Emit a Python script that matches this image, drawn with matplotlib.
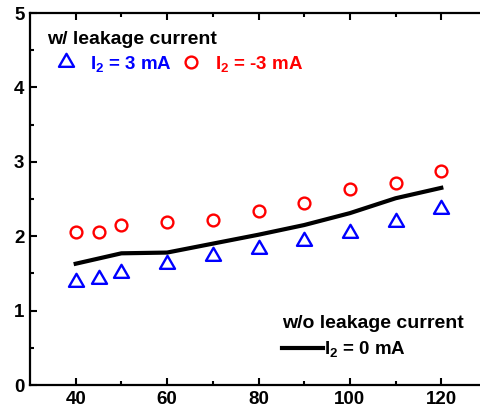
import numpy as np
import matplotlib.pyplot as plt
from matplotlib.path import Path

plt.rcParams['font.family'] = ['Liberation Sans', 'DejaVu Sans']
plt.rcParams['font.weight'] = 'bold'
plt.rcParams['mathtext.fontset'] = 'custom'
plt.rcParams['mathtext.rm'] = 'Liberation Sans:bold'
plt.rcParams['mathtext.it'] = 'Liberation Sans:bold'
plt.rcParams['mathtext.bf'] = 'Liberation Sans:bold'

# datos
x_fuga = [40, 45, 50, 60, 70, 80, 90, 100, 110, 120]
y_pos = [1.38, 1.43, 1.50, 1.63, 1.74, 1.83, 1.93, 2.04, 2.19, 2.36]   # I2 = 3 mA
y_neg = [2.06, 2.05, 2.15, 2.19, 2.22, 2.34, 2.45, 2.63, 2.71, 2.87]   # I2 = -3 mA
x_sin = [40, 50, 60, 70, 80, 90, 100, 110, 120]
y_sin = [1.63, 1.77, 1.78, 1.90, 2.02, 2.15, 2.31, 2.51, 2.65]         # I2 = 0 mA

xticks = [40, 60, 80, 100, 120]
yticks = [0, 1, 2, 3, 4, 5]

# triangulo equilatero
tri = Path([(0, 1), (-0.866, -0.5), (0.866, -0.5), (0, 1)],
           [Path.MOVETO, Path.LINETO, Path.LINETO, Path.CLOSEPOLY])

fig = plt.figure(figsize=(4.8, 4.17), dpi=100)
ax = fig.add_axes([30/480, 1 - 385/417, 457/480, 372/417])

p1, = ax.plot(x_fuga, y_pos, linestyle='none', marker=tri, ms=12.5,
              mfc='none', mec='#0000ff', mew=1.7, label='I$_2$ = 3 mA')
p2, = ax.plot(x_fuga, y_neg, linestyle='none', marker='o', ms=8.5,
              mfc='none', mec='#ff0000', mew=1.7, label='I$_2$ = -3 mA')
l0, = ax.plot(x_sin, y_sin, color='black', lw=3, label='I$_2$ = 0 mA')

ax.set_xlim(30, 130)
ax.set_ylim(0, 5)
ax.set_xticks(xticks)
ax.set_yticks(yticks)
ax.set_xticks([50, 70, 90, 110], minor=True)
ax.set_yticks(np.arange(0.5, 5, 1), minor=True)
ax.tick_params(which='both', direction='in', top=True, right=True, width=1.5,
               labelsize=13.5, pad=4)
ax.tick_params(which='major', length=5)
ax.tick_params(which='minor', length=3)
for s in ax.spines.values():
    s.set_linewidth(1.6)

leg1 = ax.legend(handles=[p1, p2], ncol=2, frameon=False, loc='upper left',
                 bbox_to_anchor=(0.0, 0.996), title='w/ leakage current',
                 alignment='left', fontsize=13.5, handletextpad=0.3,
                 columnspacing=0.0, handlelength=2.0, labelspacing=0.29,
                 labelcolor=['#0000ff', '#ff0000'],
                 title_fontproperties={'weight': 'bold', 'size': 14})
ax.add_artist(leg1)
ax.legend(handles=[l0], frameon=False, loc='lower left',
          bbox_to_anchor=(0.515, 0.024), title='w/o leakage current',
          alignment='left', fontsize=13.5, handletextpad=0.02,
          handlelength=2.2, labelspacing=0.39,
          title_fontproperties={'weight': 'bold', 'size': 14})

fig.savefig('out.png', dpi=100)
